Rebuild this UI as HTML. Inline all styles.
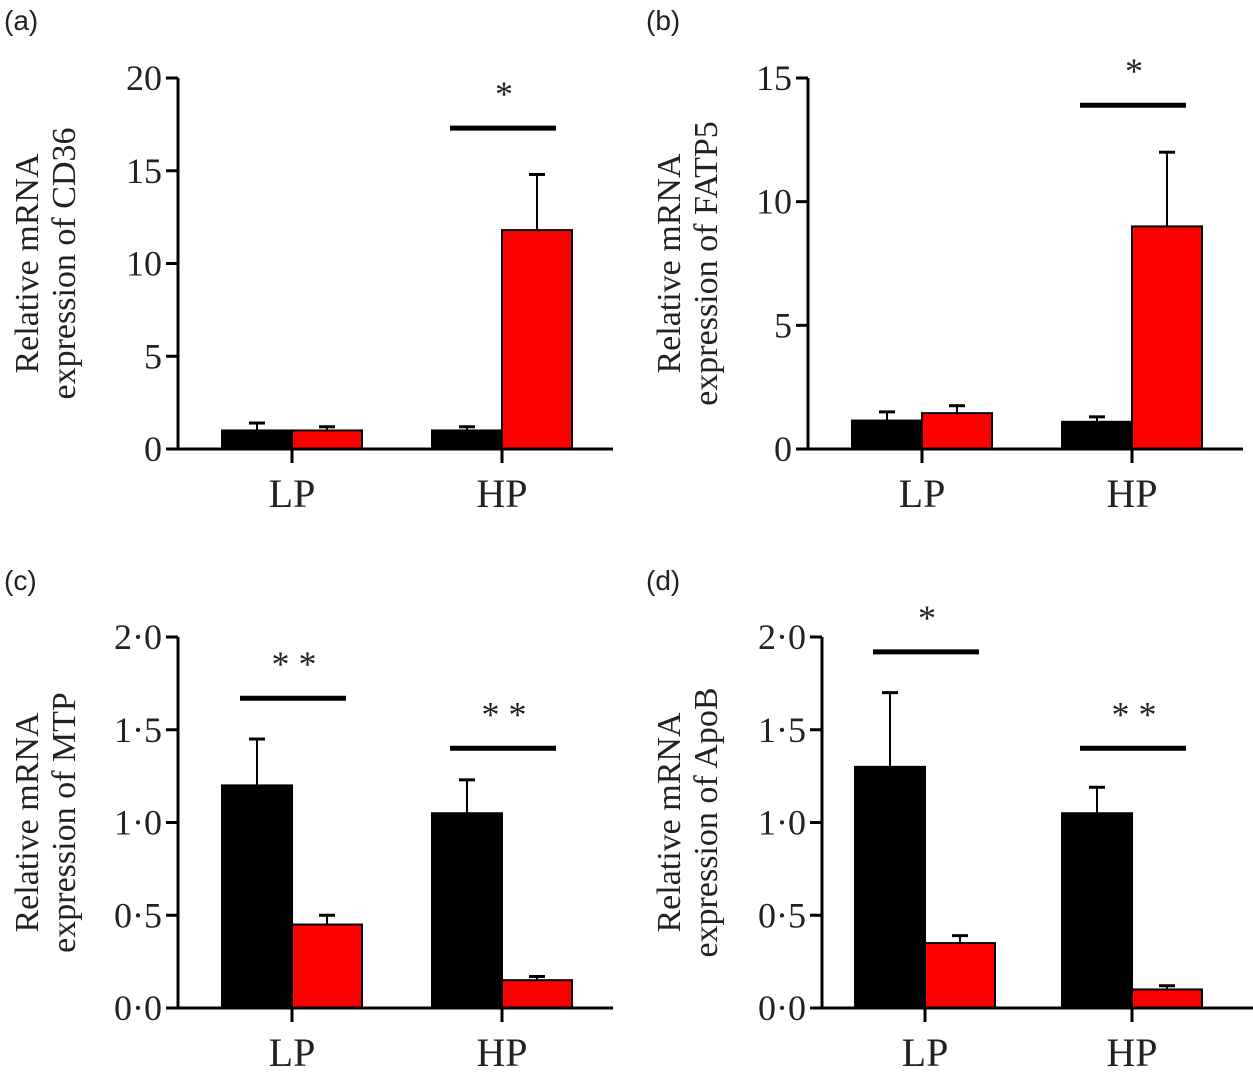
<!DOCTYPE html>
<html><head><meta charset="utf-8"><style>
html,body{margin:0;padding:0;background:#fff;width:1253px;height:1075px;overflow:hidden}
svg{display:block}
text{font-family:"Liberation Serif",serif;fill:#222}
</style></head><body>
<svg id="fig" width="1253" height="1075" xmlns="http://www.w3.org/2000/svg"></svg>
<script>
const categories = ["LP","HP"];
const cd36Black = [1.0, 1.0], cd36BlackErr = [1.4, 1.2];
const cd36Red = [1.0, 11.8], cd36RedErr = [1.2, 14.8];
const fatp5Black = [1.15, 1.1], fatp5BlackErr = [1.5, 1.3];
const fatp5Red = [1.45, 9.0], fatp5RedErr = [1.75, 12.0];
const mtpBlack = [1.2, 1.05], mtpBlackErr = [1.45, 1.23];
const mtpRed = [0.45, 0.15], mtpRedErr = [0.5, 0.17];
const apobBlack = [1.3, 1.05], apobBlackErr = [1.7, 1.19];
const apobRed = [0.35, 0.1], apobRedErr = [0.39, 0.12];
const ticksA = [0,5,10,15,20], ticksB = [0,5,10,15], ticksC = [0,0.5,1,1.5,2];
const tickLabelsC = ["0·0","0·5","1·0","1·5","2·0"];
const sigA = [{cat:1, y:17.3, label:"*"}];
const sigB = [{cat:1, y:13.9, label:"*"}];
const sigC = [{cat:0, y:1.67, label:"* *"},{cat:1, y:1.40, label:"* *"}];
const sigD = [{cat:0, y:1.92, label:"*"},{cat:1, y:1.40, label:"* *"}];

const NS="http://www.w3.org/2000/svg";
const svg=document.getElementById('fig');
function mk(tag,attrs,parent){const e=document.createElementNS(NS,tag);for(const k in attrs)e.setAttribute(k,attrs[k]);(parent||svg).appendChild(e);return e;}

function panel(o){
  const g=mk('g',{});
  
  
  const y=v=>o.y0-(v/o.max)*(o.y0-o.yTop);
  const cx=i=>o.cats[i];
  const pl=mk('text',{x:o.lx,y:o.ly,'font-size':28,style:'font-family:"Liberation Sans",sans-serif'},g);
  pl.textContent='('+o.id+')';
  
  
  const t=mk('text',{transform:`translate(${o.tx},${(o.y0+o.yTop)/2}) rotate(-90)`,'text-anchor':'middle','font-size':34},g);
  
  
  const t1=mk('tspan',{x:0,dy:0},t);t1.textContent='Relative mRNA';
  const t2=mk('tspan',{x:0,dy:37},t);t2.textContent='expression of '+o.gene;
  categories.forEach((c,i)=>{
    [[o.black,o.blackErr,'#000',-70],[o.red,o.redErr,'#f00',0]].forEach(([vals,errs,col,off],j)=>{
      const x=cx(i)+off;
      const el=mk('line',{x1:x+35,x2:x+35,y1:y(vals[i]),y2:y(errs[i]),stroke:'#000','stroke-width':2},g);
      
      
      const cap=mk('line',{x1:x+27,x2:x+43,y1:y(errs[i]),y2:y(errs[i]),stroke:'#000','stroke-width':3},g);
      
      
      const r=mk('rect',{x:x,y:y(vals[i]),width:70,height:o.y0-y(vals[i]),fill:col,stroke:'#000','stroke-width':2},g);
      
      
    });
    const tk=mk('line',{x1:cx(i),x2:cx(i),y1:o.y0,y2:o.y0+14,stroke:'#000','stroke-width':3},g);
    
    
    const lb=mk('text',{x:cx(i),y:o.y0+58,'text-anchor':'middle','font-size':40},g);
    lb.textContent=c;
    
    
  });
  const ya=mk('line',{x1:o.ax,x2:o.ax,y1:o.yTop,y2:o.y0,stroke:'#000','stroke-width':3},g);
  
  
  const xa=mk('line',{x1:o.ax-2,x2:o.ax+435,y1:o.y0,y2:o.y0,stroke:'#000','stroke-width':3},g);
  
  
  o.ticks.forEach((v,k)=>{
    const tl=mk('line',{x1:o.ax-12,x2:o.ax,y1:y(v),y2:y(v),stroke:'#000','stroke-width':3},g);
    
    
    const tt=mk('text',{x:o.ax-16,y:y(v)+12,'text-anchor':'end','font-size':36},g);
    tt.textContent=o.tickLabels?o.tickLabels[k]:String(v);
    
    
  });
  o.sig.forEach(s=>{
    const l=mk('line',{x1:cx(s.cat)-52,x2:cx(s.cat)+54,y1:y(s.y),y2:y(s.y),stroke:'#000','stroke-width':5},g);
    
    
    const st=mk('text',{x:cx(s.cat)+2,y:y(s.y)-22,'text-anchor':'middle','font-size':36},g);
    st.textContent=s.label;
    
    
  });
}
panel({id:'a',gene:'CD36',ax:178,tx:38,yTop:78,y0:449,max:20,cats:[292,502],lx:4,ly:30,ticks:ticksA,black:cd36Black,blackErr:cd36BlackErr,red:cd36Red,redErr:cd36RedErr,sig:sigA});
panel({id:'b',gene:'FATP5',ax:808,tx:680,yTop:78,y0:449,max:15,cats:[922,1132],lx:646,ly:30,ticks:ticksB,black:fatp5Black,blackErr:fatp5BlackErr,red:fatp5Red,redErr:fatp5RedErr,sig:sigB});
panel({id:'c',gene:'MTP',ax:178,tx:38,yTop:637,y0:1008,max:2,cats:[292,502],lx:4,ly:590,ticks:ticksC,tickLabels:tickLabelsC,black:mtpBlack,blackErr:mtpBlackErr,red:mtpRed,redErr:mtpRedErr,sig:sigC});
panel({id:'d',gene:'ApoB',ax:822,tx:680,yTop:637,y0:1008,max:2,cats:[925,1132],lx:646,ly:590,ticks:ticksC,tickLabels:tickLabelsC,black:apobBlack,blackErr:apobBlackErr,red:apobRed,redErr:apobRedErr,sig:sigD});
</script>
</body></html>
